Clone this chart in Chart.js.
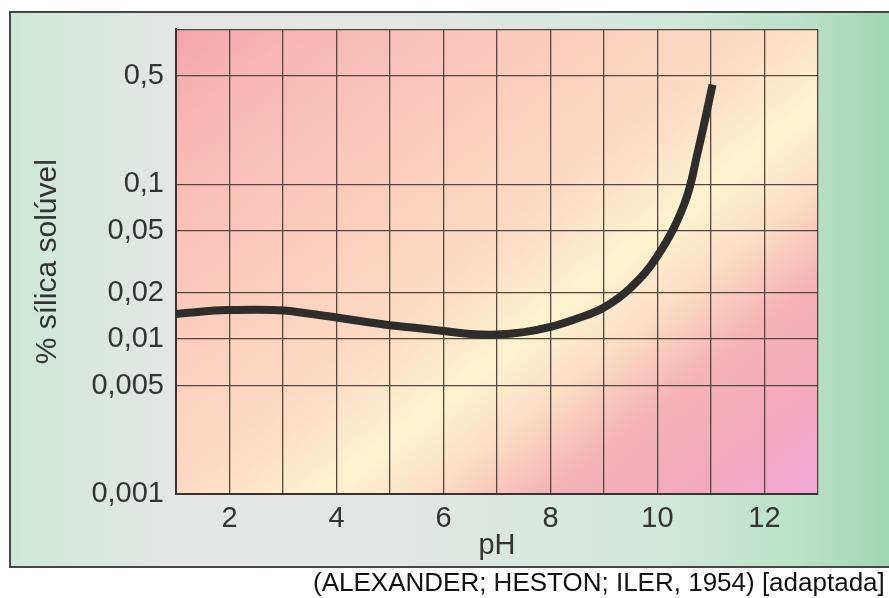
<!DOCTYPE html>
<html>
<head>
<meta charset="utf-8">
<script src="https://cdn.jsdelivr.net/npm/chart.js@4"></script>
<style>
  html, body { margin: 0; padding: 0; background: #ffffff; }
  #wrap { width: 889px; height: 598px; }
</style>
</head>
<body>
<div id="wrap"><canvas id="c" width="889" height="598"></canvas></div>
<script>
// ---- data ----
const phValues = [1, 1.5, 2, 2.5, 3, 3.5, 4, 4.5, 5, 5.5, 6, 6.5, 7, 7.5, 8, 8.5, 9, 9.5, 10, 10.5, 10.75, 11.03];
const silicaPercent = [0.0145, 0.0151, 0.0154, 0.0155, 0.0153, 0.0146, 0.0138, 0.0130, 0.0123, 0.0118, 0.0113, 0.0108, 0.0107, 0.0111, 0.0120, 0.0136, 0.0160, 0.0215, 0.0345, 0.0744, 0.160, 0.44];
const yTickValues = [0.001, 0.005, 0.01, 0.02, 0.05, 0.1, 0.5, 1];
const yTickLabels = ['0,001', '0,005', '0,01', '0,02', '0,05', '0,1', '0,5', ''];
const xTickLabels = ['2', '4', '6', '8', '10', '12'];
const xAxisTitle = 'pH';
const yAxisTitle = '% sílica solúvel';
const sourceText = '(ALEXANDER; HESTON; ILER, 1954) [adaptada]';

const FONT = "'Liberation Sans', Arial, sans-serif";

const backgroundPlugin = {
  id: 'bg',
  beforeDraw(chart) {
    const ctx = chart.ctx;
    const W = chart.width, H = chart.height;
    const a = chart.chartArea;
    ctx.save();
    ctx.fillStyle = '#ffffff';
    ctx.fillRect(0, 0, W, H);
    // outer frame
    const fx = 10, fy = 12, fb = 567;
    const g = ctx.createLinearGradient(fx, 0, W, 0);
    g.addColorStop(0, '#cde8d6');
    g.addColorStop(0.17, '#e3e6e5');
    g.addColorStop(0.45, '#e2e6e4');
    g.addColorStop(0.75, '#d0e7da');
    g.addColorStop(0.9, '#bbe1c8');
    g.addColorStop(1, '#a0d6b1');
    ctx.fillStyle = g;
    ctx.fillRect(fx, fy, W - fx + 5, fb - fy);
    ctx.strokeStyle = '#474747';
    ctx.lineWidth = 2;
    ctx.strokeRect(fx, fy, W - fx + 10, fb - fy);
    // plot area gradient (diagonal, yellow band from lower-left to upper-right)
    const dx = (a.right - a.left), dy = (a.bottom - a.top);
    const L = dx * 0.62 + dy * 0.784;
    const g2 = ctx.createLinearGradient(a.left, a.top, a.left + 0.62 * L, a.top + 0.784 * L);
    g2.addColorStop(0, '#f4a5ab');
    g2.addColorStop(0.12, '#f8b8b5');
    g2.addColorStop(0.3, '#fbcbbe');
    g2.addColorStop(0.47, '#fcd9c3');
    g2.addColorStop(0.6, '#fdf3cf');
    g2.addColorStop(0.68, '#fbdfc6');
    g2.addColorStop(0.78, '#f5b3b5');
    g2.addColorStop(0.9, '#f2a8bf');
    g2.addColorStop(1, '#f1a8d4');
    ctx.fillStyle = g2;
    ctx.fillRect(a.left, a.top, dx, dy);
    ctx.restore();
  },
  afterDraw(chart) {
    const ctx = chart.ctx;
    ctx.save();
    ctx.fillStyle = '#111111';
    ctx.font = '26px ' + FONT;
    ctx.textBaseline = 'middle';
    ctx.textAlign = 'left';
    ctx.fillText(sourceText, 313, 584);
    ctx.restore();
  }
};

const chart = new Chart(document.getElementById('c'), {
  type: 'line',
  data: {
    datasets: [{
      data: phValues.map((x, i) => ({ x: x, y: silicaPercent[i] })),
      borderColor: '#2f2c2c',
      borderWidth: 8,
      pointRadius: 0,
      tension: 0.4,
      fill: false,
      borderCapStyle: 'butt'
    }]
  },
  options: {
    responsive: false,
    animation: false,
    layout: { padding: { top: 27, right: 71, bottom: 0, left: 0 } },
    plugins: { legend: { display: false }, tooltip: { enabled: false } },
    scales: {
      x: {
        type: 'linear',
        min: 1, max: 13,
        afterFit(s) { s.height = 104; },
        afterBuildTicks(s) {
          const t = [];
          for (let v = 1; v <= 13; v++) t.push({ value: v });
          s.ticks = t;
        },
        ticks: {
          autoSkip: false,
          maxRotation: 0,
          padding: 8,
          color: '#333333',
          font: { family: FONT, size: 29 },
          callback(v) {
            const s = String(v);
            return xTickLabels.includes(s) ? s : '';
          }
        },
        grid: { color: '#54473f', lineWidth: 1.3, drawTicks: false },
        border: { display: true, color: '#3a3330', width: 2 },
        title: {
          display: true, text: xAxisTitle, color: '#333333',
          font: { family: FONT, size: 29 }, padding: { top: 0, bottom: 35 }
        }
      },
      y: {
        type: 'logarithmic',
        min: 0.001, max: 1,
        afterFit(s) { s.width = 176; },
        afterBuildTicks(s) {
          s.ticks = yTickValues.map(v => ({ value: v }));
        },
        ticks: {
          autoSkip: false,
          padding: 12,
          color: '#333333',
          font: { family: FONT, size: 29 },
          callback(v) {
            const i = yTickValues.indexOf(v);
            return i >= 0 ? yTickLabels[i] : '';
          }
        },
        grid: { color: '#54473f', lineWidth: 1.3, drawTicks: false },
        border: { display: true, color: '#3a3330', width: 2 },
        title: {
          display: true, text: yAxisTitle, color: '#333333',
          font: { family: FONT, size: 30 }, padding: { top: 30, bottom: 0 }
        }
      }
    }
  },
  plugins: [backgroundPlugin]
});
</script>
</body>
</html>
